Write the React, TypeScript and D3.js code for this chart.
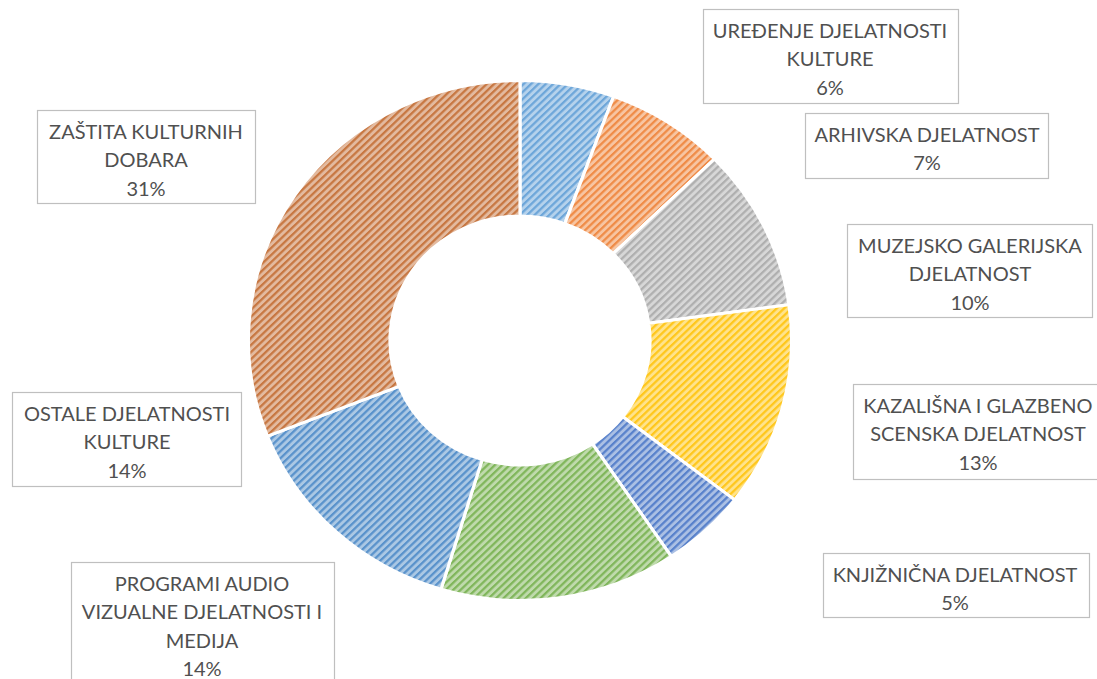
import React from 'react';
import * as d3 from 'd3';

// ---- data ----
const categories = [
  'UREĐENJE DJELATNOSTI KULTURE',
  'ARHIVSKA DJELATNOST',
  'MUZEJSKO GALERIJSKA DJELATNOST',
  'KAZALIŠNA I GLAZBENO SCENSKA DJELATNOST',
  'KNJIŽNIČNA DJELATNOST',
  'PROGRAMI AUDIO VIZUALNE DJELATNOSTI I MEDIJA',
  'OSTALE DJELATNOSTI KULTURE',
  'ZAŠTITA KULTURNIH DOBARA',
];
const shares = [5.6, 7.1, 10.1, 12.7, 5.1, 14.1, 14.3, 31.0];
const labelLines = [
  ['UREĐENJE DJELATNOSTI', 'KULTURE'],
  ['ARHIVSKA DJELATNOST'],
  ['MUZEJSKO GALERIJSKA', 'DJELATNOST'],
  ['KAZALIŠNA I GLAZBENO', 'SCENSKA DJELATNOST'],
  ['KNJIŽNIČNA DJELATNOST'],
  ['PROGRAMI AUDIO', 'VIZUALNE DJELATNOSTI I', 'MEDIJA'],
  ['OSTALE DJELATNOSTI', 'KULTURE'],
  ['ZAŠTITA KULTURNIH', 'DOBARA'],
];

// ---- styles / layout ----
const seriesColors = ['#5B9BD5', '#ED7D31', '#A5A5A5', '#FFC000', '#4472C4', '#70AD47', '#4585C4', '#C0662A'];
const labelBoxes = [
  { x: 703, y: 9, w: 255, h: 94, cx: 830 },
  { x: 805, y: 113, w: 243, h: 65, cx: 927 },
  { x: 847, y: 224, w: 245, h: 93, cx: 970 },
  { x: 853, y: 384, w: 250, h: 95, cx: 978 },
  { x: 823, y: 553, w: 266, h: 64, cx: 955 },
  { x: 71, y: 562, w: 263, h: 130, cx: 202 },
  { x: 12, y: 392, w: 229, h: 94, cx: 127 },
  { x: 37, y: 110, w: 218, h: 93, cx: 146 },
];

const W = 1097;
const H = 679;
const CX = 520;
const CY = 340.5;
const R_OUT = 260;
const R_IN = 124.5;
const X_STRETCH = 270 / 258.5;
const LINE_H = 28.5;
const FONT = 'Lato, "Open Sans", sans-serif';

export default function App() {
  const total = d3.sum(shares);
  const pie = d3.pie<number>().sort(null).value((d) => d).startAngle(0).endAngle(2 * Math.PI);
  const arcs = pie(shares);
  const arcGen = d3.arc<d3.PieArcDatum<number>>().innerRadius(R_IN).outerRadius(R_OUT);

  return (
    <div style={{ position: 'fixed', left: 0, top: 0 }}>
      <svg width={W} height={H} style={{ display: 'block', background: '#fff' }}>
        <defs>
          {seriesColors.map((c, i) => {
            const bg = d3.interpolateRgb(c, '#ffffff')(0.55);
            return (
              <pattern
                key={i}
                id={`pat${i}`}
                patternUnits="userSpaceOnUse"
                width={5}
                height={5}
                patternTransform="rotate(45)"
              >
                <rect width={5} height={5} fill={bg} />
                <rect width={2.2} height={5} fill={c} opacity={0.8} />
              </pattern>
            );
          })}
        </defs>
        <g transform={`translate(${CX},${CY}) scale(${X_STRETCH},1)`}>
          {arcs.map((a, i) => (
            <path
              key={categories[i]}
              d={arcGen(a) || ''}
              fill={`url(#pat${i})`}
              stroke="#ffffff"
              strokeWidth={3}
              strokeLinejoin="round"
            />
          ))}
        </g>
        {labelBoxes.map((b, i) => {
          const lines = [...labelLines[i], `${Math.round((shares[i] / total) * 100)}%`];
          return (
            <g key={`lab${i}`}>
              <rect x={b.x + 0.5} y={b.y + 0.5} width={b.w} height={b.h} fill="#fff" stroke="#BFBFBF" strokeWidth={1.2} />
              <text
                x={b.cx}
                y={b.y + 28.5}
                textAnchor="middle"
                fontFamily={FONT}
                fontSize={20}
                fill="#505050"
              >
                {lines.map((l, j) => (
                  <tspan key={j} x={b.cx} dy={j === 0 ? 0 : LINE_H}>
                    {l}
                  </tspan>
                ))}
              </text>
            </g>
          );
        })}
      </svg>
    </div>
  );
}
